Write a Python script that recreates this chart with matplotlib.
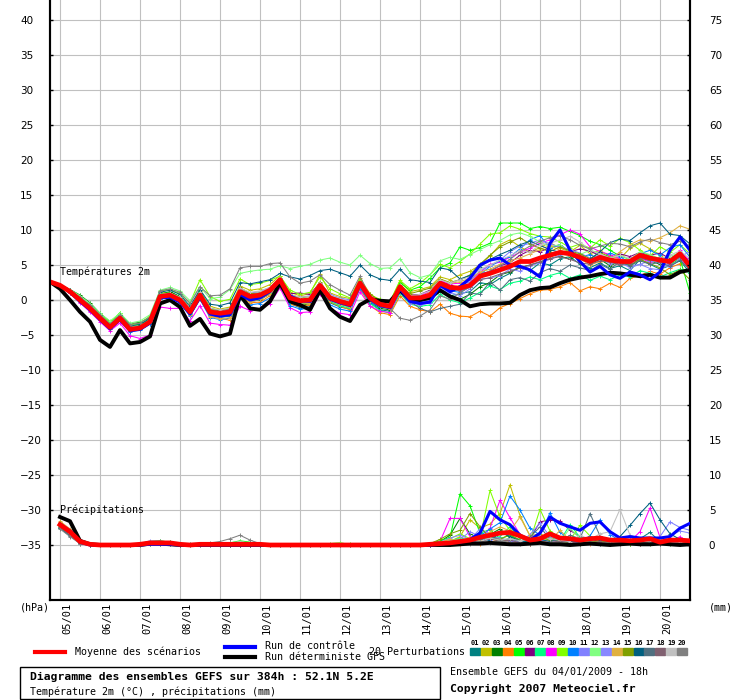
import matplotlib
matplotlib.use("Agg")
import matplotlib.pyplot as plt
from matplotlib.patches import Rectangle
from matplotlib.lines import Line2D
from matplotlib.transforms import ScaledTranslation

# diagramme des ensembles GEFS (t2m + precip), run du 04/01/2009 18h
W, H = 740, 700

heures = list(range(0, 385, 6))          # echeances 0..384h
heures_p = heures[1:]                    # cumuls 6h
jours = ['05/01', '06/01', '07/01', '08/01', '09/01', '10/01', '11/01', '12/01',
         '13/01', '14/01', '15/01', '16/01', '17/01', '18/01', '19/01', '20/01']
jours_h = [6 + 24 * k for k in range(len(jours))]

couleurs = ['#008080', '#c0c000', '#008000', '#ff8000', '#00ff00', '#800080', '#00ff80',
            '#ff00ff', '#80ff00', '#0080ff', '#8080ff', '#80ff80', '#8888ff', '#e0b040',
            '#80a000', '#006080', '#507080', '#806070', '#c0c0c0', '#808080']

# --- temperatures 2m (°C) ---
t_moy = [2.6, 2.1, 1.2, 0.0, -1.2, -2.6, -3.9, -2.6, -4.2, -4.0,
         -3.1, 0.5, 0.7, 0.0, -1.7, 0.7, -1.7, -1.9, -1.7, 1.2,
         0.5, 0.7, 1.4, 2.9, 0.3, -0.1, 0.0, 2.1, 0.3, -0.2,
         -0.6, 2.4, 0.3, -0.6, -0.9, 1.9, 0.3, 0.3, 0.7, 2.4,
         1.8, 1.7, 2.1, 3.4, 3.8, 4.3, 4.8, 5.5, 5.5, 6.0,
         6.4, 6.8, 6.6, 6.1, 5.5, 6.1, 5.7, 5.5, 5.5, 6.4,
         6.0, 5.7, 5.5, 6.6, 4.8]
t_ctl = [2.6, 2.1, 1.1, -0.2, -1.4, -2.8, -4.1, -2.8, -4.4, -4.2,
         -3.3, 0.3, 0.4, -0.3, -2.0, 0.4, -2.0, -2.3, -2.1, 0.8,
         0.0, 0.3, 1.2, 2.9, 0.6, -0.1, -0.2, 2.0, 0.1, -0.4,
         -0.8, 2.2, 0.1, -0.8, -1.1, 1.6, -0.2, -0.5, -0.3, 2.1,
         1.2, 1.9, 3.1, 5.0, 5.7, 6.0, 5.0, 4.8, 4.3, 3.3,
         8.1, 10.0, 7.1, 5.5, 4.0, 4.8, 3.6, 3.1, 4.0, 3.6,
         2.9, 4.0, 7.1, 9.0, 7.1]
t_det = [2.6, 1.6, 0.0, -1.7, -3.1, -5.7, -6.7, -4.3, -6.2, -6.0,
         -5.2, -0.5, 0.0, -1.0, -3.7, -2.7, -4.8, -5.2, -4.8, 0.7,
         -1.2, -1.4, -0.2, 2.4, -0.2, -0.7, -1.4, 1.4, -1.2, -2.4,
         -3.0, -0.7, 0.1, -0.1, -0.2, 1.4, 0.0, 0.0, 0.3, 1.4,
         0.5, 0.0, -0.9, -0.6, -0.5, -0.5, -0.4, 0.7, 1.4, 1.7,
         1.8, 2.4, 2.9, 3.2, 3.4, 3.7, 3.9, 3.8, 3.6, 3.4,
         3.6, 3.2, 3.2, 4.0, 4.3]

t01 = [2.6, 2.0, 1.0, -0.3, -1.5, -2.9, -4.1, -2.9, -4.4, -4.2,
       -3.4, 0.2, 0.4, -0.4, -2.1, 0.3, -2.2, -2.5, -2.3, 0.7,
       -0.2, 0.0, 0.9, 2.2, -0.5, -1.1, -0.8, 1.6, -0.4, -1.0,
       -1.3, 1.8, -0.4, -1.4, -1.6, 1.1, -0.6, -0.2, 0.1, 1.5,
       0.6, 0.9, 1.2, 2.5, 2.2, 3.1, 3.8, 4.9, 4.2, 5.3,
       5.0, 5.9, 6.2, 5.1, 4.6, 5.3, 4.5, 4.9, 4.2, 5.8,
       5.1, 4.4, 4.9, 5.6, 3.9]
t02 = [2.6, 2.2, 1.4, 0.3, -0.9, -2.3, -3.6, -2.4, -3.8, -3.7,
       -2.7, 1.0, 1.1, 0.4, -1.2, 1.3, -0.9, -1.3, -1.0, 2.0,
       1.4, 1.6, 2.2, 3.5, 1.1, 0.6, 0.9, 3.7, 1.0, 0.5,
       0.2, 3.1, 0.9, -0.1, -0.3, 2.6, 1.2, 1.5, 1.9, 3.3,
       2.9, 3.6, 4.1, 5.0, 6.3, 7.9, 8.6, 7.6, 6.8, 7.5,
       8.2, 7.4, 6.9, 7.8, 6.6, 7.1, 6.2, 5.9, 7.4, 8.1,
       7.3, 6.5, 5.3, 6.2, 5.1]
t03 = [2.6, 2.2, 1.5, 0.7, -0.4, -1.9, -3.1, -2.3, -3.4, -3.2,
       -2.5, 0.8, 1.2, 0.5, -1.2, 0.9, -1.2, -1.5, -1.4, 1.5,
       0.6, 0.2, 0.8, 2.5, -0.3, -0.8, -0.5, 1.8, 0.0, -0.6,
       -1.0, 2.0, -0.2, -1.2, -1.4, 1.4, 0.5, 0.6, 0.2, 1.4,
       0.7, 0.1, 0.8, 1.9, 2.5, 3.6, 4.0, 4.6, 5.0, 5.4,
       5.9, 6.3, 5.8, 6.5, 5.2, 5.8, 4.9, 5.5, 4.8, 6.0,
       5.6, 5.1, 5.9, 6.8, 5.4]
t04 = [2.6, 2.1, 1.1, -0.1, -1.3, -2.8, -4.0, -2.8, -4.3, -4.1,
       -3.3, 0.3, 0.3, -0.2, -2.0, 0.4, -2.3, -2.6, -2.9, 0.5,
       -0.4, -0.3, 0.6, 2.4, -0.6, -0.9, -0.7, 1.7, -0.3, -0.9,
       -1.4, 1.6, -0.8, -1.8, -2.1, 0.6, -0.9, -1.4, -1.7, -0.6,
       -1.9, -2.3, -2.4, -1.6, -2.3, -1.1, -0.5, 0.2, 0.9, 1.4,
       1.5, 1.9, 2.5, 1.3, 1.9, 1.6, 2.4, 1.8, 3.1, 3.5,
       4.1, 3.7, 4.6, 5.2, 5.6]
t05 = [2.6, 2.1, 1.3, 0.2, -0.9, -2.2, -3.3, -1.8, -3.6, -3.5,
       -2.7, 0.9, 1.0, 0.3, -1.3, 1.4, -1.4, -1.6, -1.7, 1.4,
       0.8, 0.5, 1.3, 2.6, 0.1, -0.5, -0.3, 2.0, 0.2, -0.4,
       -0.8, 2.2, -0.1, -0.7, -0.8, 2.5, 1.4, 1.9, 3.1, 4.6,
       5.3, 7.6, 7.1, 7.5, 8.1, 11.0, 11.0, 11.0, 10.2, 10.5,
       10.2, 10.4, 9.8, 9.2, 8.4, 7.9, 7.1, 6.3, 5.8, 6.6,
       5.5, 6.2, 5.0, 5.9, 1.0]
t06 = [2.6, 2.1, 1.2, 0.1, -1.1, -2.5, -3.8, -2.6, -4.0, -3.9,
       -3.0, 0.6, 0.8, 0.2, -1.5, 0.8, -1.4, -1.5, -1.3, 1.3,
       0.5, 0.7, 1.2, 3.1, 0.9, 1.0, 0.8, 2.5, 0.6, 0.1,
       -0.2, 2.6, 0.6, -0.3, -0.5, 2.0, 0.7, 0.8, 1.4, 2.7,
       2.2, 1.6, 2.0, 3.7, 4.1, 4.9, 5.3, 6.4, 7.1, 6.9,
       7.5, 7.9, 6.9, 7.3, 7.0, 6.3, 6.0, 6.6, 6.2, 6.8,
       6.4, 6.7, 5.9, 6.3, 5.8]
t07 = [2.6, 2.0, 1.1, -0.2, -1.4, -2.8, -4.0, -2.7, -4.3, -4.1,
       -3.3, 0.3, 0.5, -0.3, -2.0, 0.3, -2.1, -2.3, -2.2, 0.9,
       0.1, 0.3, 1.0, 2.6, -0.4, -0.6, -0.4, 1.7, -0.2, -0.8,
       -1.2, 1.9, -0.5, -1.5, -1.9, 1.0, -0.6, -0.9, -0.7, 0.8,
       0.0, -0.4, 0.3, 1.1, 2.0, 1.5, 2.4, 2.7, 3.3, 2.9,
       3.5, 3.9, 3.1, 3.6, 2.8, 3.4, 2.9, 3.6, 3.3, 4.2,
       3.8, 3.3, 3.9, 4.4, 3.9]
t08 = [2.6, 2.0, 1.0, -0.4, -1.7, -3.1, -4.4, -3.3, -5.1, -5.5,
       -5.0, -1.0, -1.2, -1.2, -3.0, -0.8, -3.3, -3.5, -3.6, -0.9,
       -1.5, -1.2, -0.5, 1.7, -1.1, -1.8, -1.7, 0.9, -1.2, -1.9,
       -2.1, 1.2, -0.9, -1.6, -1.8, 1.3, 0.3, 0.6, 1.2, 2.8,
       2.3, 2.4, 2.8, 3.9, 5.1, 5.4, 6.1, 6.8, 7.4, 8.1,
       8.6, 9.3, 10.0, 9.4, 7.6, 6.9, 6.5, 5.9, 5.1, 6.0,
       5.4, 6.1, 5.0, 7.1, 5.5]
t09 = [2.6, 2.2, 1.4, 0.4, -0.7, -2.0, -3.2, -1.9, -3.5, -3.3,
       -2.3, 1.3, 1.5, 0.9, -0.4, 2.9, 0.5, -0.2, 0.1, 3.0,
       2.2, 2.4, 2.8, 3.4, 1.4, 0.8, 1.1, 3.3, 1.6, 0.9,
       0.3, 2.9, 0.7, 0.1, -0.2, 2.8, 1.6, 2.4, 3.6, 5.1,
       4.6, 5.5, 6.6, 8.0, 9.4, 9.6, 10.6, 10.1, 9.5, 9.1,
       9.0, 8.3, 7.5, 8.0, 7.4, 8.6, 7.7, 8.8, 8.2, 7.1,
       6.3, 7.6, 6.8, 7.9, 6.6]
t10 = [2.6, 2.1, 1.2, 0.0, -1.3, -2.7, -4.0, -2.9, -4.5, -4.3,
       -3.4, 0.2, 0.4, -0.4, -2.3, 0.1, -2.5, -2.8, -2.6, 0.3,
       -0.7, -0.5, 0.3, 2.3, -0.8, -1.3, -1.2, 1.4, -0.7, -1.3,
       -1.6, 1.7, -0.3, -1.0, -1.2, 1.6, 0.1, 0.2, 0.8, 2.0,
       1.3, 1.1, 1.9, 3.6, 4.8, 5.6, 6.2, 7.3, 8.6, 9.2,
       7.4, 7.9, 6.8, 6.1, 6.5, 5.8, 6.7, 6.2, 5.3, 6.6,
       7.1, 6.4, 7.5, 7.9, 6.1]
t11 = [2.6, 2.1, 1.3, 0.0, -1.1, -2.5, -3.7, -2.6, -4.1, -3.8,
       -3.0, 0.7, 0.9, 0.3, -1.4, 0.9, -1.4, -1.6, -1.4, 1.6,
       1.0, 1.2, 1.8, 3.1, 0.7, 0.4, 0.6, 2.4, 0.8, 0.3,
       0.0, 2.5, 0.6, -0.2, -0.4, 1.4, -0.3, -0.7, -0.4, 1.5,
       1.0, 2.1, 2.6, 4.2, 4.9, 5.7, 6.9, 7.7, 8.1, 8.6,
       8.0, 7.6, 7.2, 6.7, 6.0, 6.4, 5.9, 5.2, 4.8, 5.1,
       4.5, 4.3, 5.3, 6.2, 6.9]
t12 = [2.6, 2.2, 1.5, 0.6, -0.5, -1.9, -3.0, -1.9, -3.3, -3.0,
       -2.1, 1.4, 1.8, 1.3, -0.1, 1.9, 0.2, 0.4, 1.5, 3.8,
       4.1, 4.3, 4.4, 4.9, 4.5, 4.8, 5.1, 5.7, 6.0, 5.4,
       5.0, 6.4, 5.2, 4.5, 4.6, 5.9, 3.9, 3.2, 3.6, 5.6,
       6.1, 5.8, 6.5, 7.2, 7.9, 8.5, 9.3, 9.6, 9.1, 8.3,
       7.6, 7.9, 6.8, 6.5, 7.1, 6.7, 6.0, 6.4, 5.8, 6.9,
       6.5, 5.9, 6.2, 6.8, 4.6]
t13 = [2.6, 2.1, 1.2, -0.1, -1.3, -2.6, -3.9, -2.5, -4.1, -4.0,
       -3.0, 0.6, 0.6, 0.1, -1.8, 0.6, -1.9, -2.0, -1.9, 1.1,
       0.2, 0.5, 1.1, 2.7, 0.0, -0.4, -0.3, 1.9, 0.1, -0.5,
       -0.8, 2.0, 0.1, -0.8, -1.1, 1.2, -0.5, -0.4, 0.0, 1.8,
       1.1, 0.6, 1.6, 3.0, 3.1, 3.5, 4.4, 4.1, 4.9, 5.3,
       5.8, 6.4, 6.9, 6.3, 5.6, 5.9, 5.2, 5.4, 4.6, 5.1,
       5.6, 5.3, 4.7, 5.9, 4.4]
t14 = [2.6, 2.1, 1.1, 0.0, -1.2, -2.7, -3.9, -2.7, -4.2, -4.1,
       -3.2, 0.4, 0.5, -0.3, -2.2, 0.2, -2.4, -2.7, -2.5, 0.6,
       -0.3, 0.1, 0.8, 2.6, -0.2, -0.6, -0.5, 1.8, -0.1, -0.6,
       -1.0, 2.1, -0.1, -0.9, -1.3, 1.5, 0.0, 0.4, 1.1, 3.0,
       2.4, 2.6, 3.1, 4.0, 4.4, 5.1, 5.6, 6.0, 6.6, 7.2,
       7.8, 7.1, 6.3, 5.9, 5.0, 5.5, 5.7, 6.9, 7.9, 8.6,
       8.4, 8.9, 9.6, 10.6, 10.1]
t15 = [2.6, 2.1, 1.2, 0.1, -1.0, -2.4, -3.6, -2.4, -3.9, -3.8,
       -2.9, 0.7, 0.9, 0.4, -1.3, 1.0, -1.3, -1.5, -1.2, 1.8,
       0.9, 1.0, 1.6, 3.2, 0.8, 0.3, 0.5, 2.6, 0.6, 0.1,
       -0.3, 2.7, 0.8, -0.1, -0.6, 2.2, 0.9, 1.3, 1.7, 3.0,
       2.5, 2.9, 3.6, 5.1, 6.4, 7.6, 8.3, 8.9, 8.0, 7.4,
       6.9, 7.6, 7.0, 6.6, 5.9, 6.8, 6.1, 5.4, 5.0, 5.8,
       5.2, 4.6, 3.6, 4.3, 2.9]
t16 = [2.6, 2.2, 1.4, 0.3, -0.8, -2.2, -3.5, -2.2, -3.7, -3.5,
       -2.6, 1.1, 1.4, 0.8, -0.9, 1.5, -0.6, -0.8, -0.4, 2.5,
       2.3, 2.6, 2.9, 3.8, 3.3, 3.0, 3.5, 4.2, 4.4, 3.9,
       3.4, 5.0, 3.6, 3.0, 2.8, 4.4, 2.9, 2.7, 2.5, 4.6,
       4.3, 3.0, 3.5, 4.7, 5.8, 6.5, 7.1, 7.9, 8.4, 7.8,
       7.2, 6.8, 6.5, 6.1, 5.8, 6.9, 8.2, 8.7, 8.5, 9.6,
       10.6, 11.0, 9.4, 9.2, 8.0]
t17 = [2.6, 2.1, 1.2, 0.0, -1.3, -2.8, -4.1, -2.8, -4.4, -4.1,
       -3.2, 0.4, 0.6, -0.1, -1.9, 0.5, -1.8, -2.0, -1.8, 1.0,
       0.3, 0.6, 1.5, 3.0, 0.4, -0.1, 0.1, 2.2, 0.4, -0.3,
       -0.7, 2.3, 0.2, -0.7, -1.0, 1.8, -0.2, -1.2, -1.7, -1.2,
       -0.9, -0.6, 1.0, 0.8, 2.6, 1.4, 2.9, 3.2, 2.7, 3.9,
       4.5, 4.1, 5.0, 4.6, 4.2, 5.1, 4.4, 5.5, 4.9, 5.6,
       5.1, 5.4, 4.8, 5.7, 4.3]
t18 = [2.6, 2.1, 1.2, 0.1, -1.2, -2.6, -3.9, -2.7, -4.2, -4.0,
       -3.1, 0.5, 0.7, 0.1, -1.6, 0.8, -1.6, -1.8, -1.6, 1.3,
       0.6, 0.8, 1.4, 2.8, 0.2, -0.3, -0.1, 2.0, 0.2, -0.4,
       -0.7, 2.3, 0.2, -0.7, -1.0, 1.7, 0.1, 0.0, 0.5, 2.1,
       1.6, 1.3, 1.8, 2.9, 3.2, 3.7, 4.1, 4.6, 5.0, 5.5,
       5.9, 6.2, 5.8, 5.3, 5.1, 5.6, 5.4, 5.0, 5.3, 6.0,
       5.7, 5.5, 5.2, 6.1, 5.0]
t19 = [2.6, 2.1, 1.3, 0.2, -1.0, -2.4, -3.7, -2.4, -3.9, -3.8,
       -2.8, 0.8, 1.0, 0.4, -1.2, 1.1, -1.2, -1.4, -1.2, 1.7,
       1.1, 1.3, 1.8, 3.2, 0.8, 0.4, 0.5, 2.5, 0.7, 0.2,
       -0.2, 2.6, 0.6, -0.3, -0.6, 2.1, 0.6, 0.8, 1.3, 2.9,
       2.4, 2.9, 3.3, 4.4, 5.0, 5.7, 6.3, 7.1, 6.8, 7.9,
       8.1, 8.6, 9.1, 8.3, 7.1, 6.6, 6.0, 6.4, 5.9, 6.6,
       6.2, 5.8, 6.4, 7.0, 5.9]
t20 = [2.6, 2.2, 1.4, 0.4, -0.7, -2.1, -3.4, -2.1, -3.5, -3.3,
       -2.4, 1.3, 1.6, 1.1, -0.5, 1.9, 0.6, 0.7, 1.6, 4.6,
       4.8, 4.8, 5.2, 5.3, 3.3, 2.4, 2.7, 3.6, 2.2, 1.4,
       0.7, 3.4, 0.5, -0.5, -1.2, -2.6, -2.9, -2.3, -1.4, 0.6,
       0.1, 1.0, 1.9, 3.3, 4.2, 4.9, 5.8, 6.9, 7.7, 8.4,
       8.9, 9.2, 8.6, 7.8, 7.3, 7.7, 8.1, 8.0, 7.6, 8.3,
       8.7, 8.2, 7.9, 8.4, 7.6]

# --- precipitations 6h (mm) ---
p_moy = [2.9, 1.9, 0.5, 0.1, 0, 0, 0, 0,  0.1, 0.3, 0.3, 0.3, 0.1, 0, 0.1, 0.1,
         0.1, 0.1, 0.1, 0.1, 0.1, 0, 0, 0,  0, 0, 0, 0, 0, 0, 0, 0,
         0, 0, 0, 0, 0, 0.1, 0.2, 0.3,  0.5, 0.7, 1.1, 1.4, 1.7, 1.8, 1.3, 0.7,
         0.9, 1.6, 1.0, 0.9, 0.7, 0.9, 1.0, 0.7,  0.7, 0.6, 0.7, 0.9, 0.4, 0.7, 0.7, 0.6]
p_ctl = [3.0, 2.0, 0.4, 0, 0, 0, 0, 0,  0, 0.1, 0.1, 0.1, 0, 0, 0, 0,
         0, 0, 0, 0, 0, 0, 0, 0,  0, 0, 0, 0, 0, 0, 0, 0,
         0, 0, 0, 0, 0, 0, 0.1, 0.3,  0.4, 0.8, 1.7, 4.8, 3.6, 2.9, 1.4, 0.7,
         1.7, 4.0, 3.1, 2.6, 2.1, 3.1, 3.3, 1.9,  1.0, 1.2, 1.0, 1.0, 1.0, 1.2, 2.4, 3.1]
p_det = [4.0, 3.4, 0.6, 0.1, 0, 0, 0, 0,  0, 0.2, 0.2, 0.1, 0, 0, 0, 0,
         0, 0, 0, 0, 0, 0, 0, 0,  0, 0, 0, 0, 0, 0, 0, 0,
         0, 0, 0, 0, 0, 0, 0, 0,  0.1, 0.2, 0.2, 0.3, 0.2, 0.1, 0.1, 0.2,
         0.3, 0.1, 0.1, 0, 0.1, 0.2, 0.1, 0,  0.1, 0.2, 0.1, 0.1, 0.2, 0.1, 0, 0.1]

p01 = [2.7, 1.6, 0.4, 0, 0, 0, 0, 0,  0, 0.2, 0.3, 0.2, 0, 0, 0, 0,
       0, 0.1, 0.2, 0.1, 0, 0, 0, 0,  0, 0, 0, 0, 0, 0, 0, 0,
       0, 0, 0, 0, 0, 0, 0.2, 0.4,  0.6, 0.3, 0.8, 1.2, 2.0, 1.4, 0.6, 0.2,
       0.5, 0.9, 0.4, 0.6, 0.3, 0.8, 0.5, 0.2,  0.4, 0.3, 0.9, 1.8, 0.5, 0.3, 0.6, 0.2]
p02 = [3.1, 2.1, 0.7, 0.1, 0, 0, 0, 0,  0.1, 0.4, 0.3, 0.2, 0.1, 0, 0, 0,
       0, 0, 0.1, 0.1, 0, 0, 0, 0,  0, 0, 0, 0, 0, 0, 0, 0,
       0, 0, 0, 0, 0, 0.1, 0.2, 0.5,  1.2, 3.6, 2.4, 3.0, 4.5, 8.6, 4.2, 1.3,
       1.6, 0.8, 0.5, 0.9, 0.4, 0.3, 0.7, 0.4,  0.2, 0.5, 0.3, 0.4, 0.2, 0.6, 0.3, 0.5]
p03 = [2.6, 1.5, 0.3, 0, 0, 0, 0, 0,  0.1, 0.2, 0.2, 0.1, 0, 0, 0.1, 0.1,
       0.1, 0, 0, 0, 0, 0, 0, 0,  0, 0, 0, 0, 0, 0, 0, 0,
       0, 0, 0, 0, 0, 0.2, 0.5, 1.4,  3.8, 1.6, 0.9, 1.5, 2.3, 1.0, 0.4, 0.3,
       0.6, 1.1, 0.5, 0.3, 0.2, 0.4, 0.2, 0.1,  0.3, 0.2, 0.4, 0.6, 0.3, 0.2, 0.1, 0.2]
p04 = [3.3, 2.2, 0.6, 0.1, 0, 0, 0, 0,  0, 0.1, 0.2, 0.1, 0, 0, 0, 0,
       0, 0, 0, 0, 0, 0, 0, 0,  0, 0, 0, 0, 0, 0, 0, 0,
       0, 0, 0, 0, 0, 0, 0.1, 0.1,  0.2, 0.3, 0.1, 0.4, 0.8, 0.5, 0.3, 0.1,
       0.4, 0.6, 0.3, 0.2, 0.5, 0.1, 0.3, 0.6,  0.2, 0.4, 0.8, 0.5, 0.3, 0.9, 0.6, 0.3]
p05 = [2.9, 1.8, 0.5, 0.1, 0, 0, 0, 0,  0.2, 0.5, 0.6, 0.4, 0.1, 0, 0.1, 0.2,
       0.2, 0.3, 0.6, 0.4, 0.1, 0, 0, 0,  0, 0, 0, 0, 0, 0, 0, 0,
       0, 0, 0, 0, 0, 0.2, 0.6, 1.1,  7.3, 5.6, 1.7, 2.2, 0.9, 1.4, 0.6, 0.3,
       0.8, 1.9, 0.7, 0.5, 0.3, 0.6, 0.4, 0.2,  0.5, 0.3, 0.2, 0.4, 0.3, 0.5, 0.2, 0.4]
p06 = [2.8, 1.7, 0.4, 0, 0, 0, 0, 0,  0, 0.2, 0.3, 0.1, 0, 0, 0, 0,
       0, 0, 0, 0, 0, 0, 0, 0,  0, 0, 0, 0, 0, 0, 0, 0,
       0, 0, 0, 0, 0, 0, 0.1, 0.3,  0.5, 0.6, 1.0, 1.3, 0.9, 0.6, 0.4, 0.9,
       3.3, 3.6, 3.4, 2.1, 1.2, 0.9, 0.6, 0.4,  0.3, 0.5, 0.2, 0.6, 0.1, 0.4, 0.3, 0.2]
p07 = [3.0, 2.0, 0.6, 0.1, 0, 0, 0, 0,  0, 0.2, 0.2, 0.1, 0, 0, 0, 0,
       0.1, 0.1, 0.2, 0.1, 0, 0, 0, 0,  0, 0, 0, 0, 0, 0, 0, 0,
       0, 0, 0, 0, 0, 0.1, 0.3, 0.6,  1.0, 0.7, 1.9, 0.8, 1.2, 2.6, 1.0, 0.5,
       0.9, 1.3, 0.6, 2.9, 1.1, 0.5, 0.4, 0.3,  0.6, 0.2, 0.3, 0.5, 0.2, 0.3, 0.4, 0.1]
p08 = [3.2, 2.2, 0.7, 0.1, 0, 0, 0, 0,  0.1, 0.3, 0.4, 0.3, 0.1, 0, 0, 0,
       0, 0, 0, 0, 0, 0, 0, 0,  0, 0, 0, 0, 0, 0, 0, 0,
       0, 0, 0, 0, 0, 0.1, 0.5, 3.8,  3.8, 1.2, 0.8, 2.4, 6.4, 3.9, 1.5, 0.6,
       0.9, 1.4, 0.8, 0.5, 0.3, 0.6, 0.4, 0.3,  0.7, 0.5, 1.9, 5.3, 1.1, 0.4, 1.2, 0.3]
p09 = [2.5, 1.4, 0.3, 0, 0, 0, 0, 0,  0.1, 0.2, 0.3, 0.2, 0, 0, 0.1, 0.1,
       0, 0, 0.1, 0, 0, 0, 0, 0,  0, 0, 0, 0.2, 0.3, 0.1, 0, 0,
       0, 0, 0, 0, 0, 0.1, 0.3, 0.9,  1.6, 0.9, 1.0, 7.8, 4.0, 2.1, 1.2, 0.6,
       5.1, 2.0, 1.0, 0.7, 2.8, 1.3, 0.5, 0.3,  0.4, 0.3, 0.6, 0.2, 0.5, 0.3, 0.4, 0.2]
p10 = [2.8, 1.7, 0.5, 0.1, 0, 0, 0, 0,  0, 0.1, 0.1, 0.1, 0, 0, 0, 0,
       0, 0, 0, 0, 0, 0, 0, 0,  0, 0, 0, 0, 0, 0, 0, 0,
       0, 0, 0, 0, 0, 0, 0.1, 0.2,  0.4, 0.9, 1.3, 2.3, 3.2, 7.0, 5.0, 2.4,
       1.4, 4.6, 1.8, 0.8, 0.5, 1.3, 3.6, 1.5,  0.6, 0.3, 0.4, 0.8, 0.5, 0.3, 0.6, 0.4]
p11 = [3.0, 1.9, 0.6, 0.1, 0, 0, 0, 0,  0.2, 0.6, 0.5, 0.3, 0.1, 0, 0, 0,
       0, 0, 0, 0, 0, 0, 0, 0,  0, 0, 0, 0, 0, 0, 0, 0,
       0, 0, 0, 0, 0, 0.1, 0.2, 0.4,  0.8, 1.9, 1.2, 0.7, 1.0, 0.6, 0.4, 1.5,
       3.1, 1.2, 0.8, 0.5, 0.7, 0.4, 0.3, 0.6,  0.3, 0.8, 0.5, 0.3, 1.2, 3.3, 2.5, 2.1]
p12 = [2.7, 1.6, 0.4, 0, 0, 0, 0, 0,  0.1, 0.3, 0.4, 0.2, 0, 0.1, 0.2, 0.1,
       0.1, 0.1, 0.3, 0.2, 0.1, 0, 0, 0,  0, 0, 0, 0.2, 0.3, 0.1, 0, 0,
       0, 0, 0, 0, 0, 0.1, 0.3, 0.6,  0.9, 0.5, 0.8, 1.1, 0.6, 1.0, 0.7, 0.4,
       0.6, 1.0, 0.5, 2.4, 0.9, 0.6, 0.4, 0.3,  0.5, 0.2, 0.6, 0.4, 0.3, 0.7, 0.5, 0.3]
p13 = [2.9, 1.8, 0.5, 0.1, 0, 0, 0, 0,  0.1, 0.4, 0.5, 0.3, 0.1, 0, 0, 0,
       0, 0, 0.1, 0, 0, 0, 0, 0,  0, 0, 0, 0, 0, 0, 0, 0,
       0, 0, 0, 0, 0, 0.1, 0.4, 1.0,  1.4, 0.8, 2.3, 1.6, 0.9, 0.7, 0.5, 0.3,
       0.7, 0.5, 0.4, 0.8, 0.6, 0.3, 0.2, 0.4,  0.2, 0.6, 0.4, 0.8, 0.2, 1.4, 2.0, 1.7]
p14 = [3.4, 2.3, 0.7, 0.2, 0, 0, 0, 0,  0, 0.2, 0.2, 0.1, 0, 0, 0, 0,
       0, 0, 0, 0, 0, 0, 0, 0,  0, 0, 0, 0, 0, 0, 0, 0,
       0, 0, 0, 0, 0, 0.2, 0.4, 0.8,  0.6, 1.1, 0.7, 1.9, 2.6, 2.0, 4.0, 1.3,
       0.9, 0.6, 2.1, 0.7, 0.4, 0.5, 0.3, 0.6,  0.3, 0.4, 0.2, 0.5, 0.8, 0.3, 0.9, 0.2]
p15 = [3.1, 2.0, 0.6, 0.1, 0, 0, 0, 0,  0.1, 0.3, 0.3, 0.2, 0, 0, 0.1, 0.1,
       0.1, 0, 0, 0, 0, 0, 0, 0,  0, 0, 0, 0, 0, 0, 0, 0,
       0, 0, 0, 0, 0, 0.2, 0.8, 1.6,  2.1, 4.5, 2.6, 1.0, 0.8, 1.5, 0.7, 0.4,
       1.2, 0.7, 0.6, 0.9, 0.5, 0.4, 0.6, 0.3,  0.4, 0.2, 0.5, 0.3, 0.6, 0.4, 0.2, 0.5]
p16 = [2.4, 1.3, 0.3, 0, 0, 0, 0, 0,  0.1, 0.3, 0.3, 0.2, 0.1, 0, 0, 0,
       0, 0, 0, 0, 0, 0, 0, 0,  0, 0, 0, 0, 0, 0, 0, 0,
       0, 0, 0, 0, 0, 0, 0.1, 0.3,  0.5, 0.4, 1.0, 0.6, 1.8, 1.2, 0.6, 0.4,
       0.8, 0.5, 0.9, 0.6, 0.4, 1.0, 0.7, 0.5,  1.2, 2.8, 4.5, 6.0, 3.6, 1.6, 0.8, 0.5]
p17 = [2.5, 1.4, 0.2, 0, 0, 0, 0, 0,  0.1, 0.4, 0.4, 0.2, 0, 0, 0, 0,
       0, 0, 0, 0, 0, 0, 0, 0,  0, 0, 0, 0, 0, 0, 0, 0,
       0, 0, 0, 0, 0, 0.1, 0.3, 0.5,  0.7, 0.5, 0.8, 1.3, 0.6, 0.9, 0.5, 1.1,
       2.6, 0.8, 0.5, 1.4, 0.9, 4.5, 1.3, 0.6,  0.3, 0.5, 0.4, 0.7, 0.3, 0.5, 0.6, 0.4]
p18 = [2.6, 1.5, 0.3, 0, 0, 0, 0, 0,  0.1, 0.3, 0.4, 0.2, 0, 0, 0, 0,
       0, 0, 0, 0, 0, 0, 0, 0,  0, 0, 0, 0, 0, 0, 0, 0,
       0, 0, 0, 0, 0, 0, 0.1, 0.2,  0.3, 0.6, 0.4, 0.9, 0.5, 0.7, 0.3, 0.2,
       0.5, 0.3, 0.6, 0.4, 0.2, 0.3, 0.5, 0.2,  0.4, 0.3, 0.2, 0.5, 0.2, 0.4, 0.3, 0.2]
p19 = [2.8, 1.7, 0.5, 0.1, 0, 0, 0, 0,  0.1, 0.4, 0.4, 0.2, 0.1, 0, 0, 0,
       0.1, 0.3, 0.5, 0.3, 0.1, 0, 0, 0,  0, 0, 0, 0, 0, 0, 0, 0,
       0, 0, 0, 0, 0, 0.1, 0.2, 0.4,  0.6, 0.8, 0.5, 1.0, 0.7, 0.9, 0.6, 0.8,
       1.3, 0.9, 0.7, 0.5, 1.4, 0.8, 1.6, 1.9,  5.1, 1.4, 0.6, 0.4, 0.7, 0.3, 0.5, 0.4]
p20 = [2.3, 1.2, 0.2, 0, 0, 0, 0, 0,  0.2, 0.5, 0.6, 0.4, 0.2, 0.1, 0.2, 0.3,
       0.5, 0.9, 1.4, 0.7, 0.2, 0, 0, 0,  0, 0, 0, 0, 0, 0, 0, 0,
       0, 0, 0, 0, 0, 0.1, 0.1, 0.2,  0.3, 0.2, 0.5, 0.3, 0.6, 0.4, 0.2, 0.3,
       0.5, 0.3, 0.4, 0.2, 0.3, 0.5, 0.2, 0.3,  0.2, 0.4, 0.3, 0.2, 0.4, 0.3, 0.2, 0.3]

membres_t = [t01, t02, t03, t04, t05, t06, t07, t08, t09, t10,
             t11, t12, t13, t14, t15, t16, t17, t18, t19, t20]
membres_p = [p01, p02, p03, p04, p05, p06, p07, p08, p09, p10,
             p11, p12, p13, p14, p15, p16, p17, p18, p19, p20]

MONO = 'DejaVu Sans Mono'


def fpos(x, y):
    # pixels image -> coords figure
    return x / W, 1 - y / H


fig = plt.figure(figsize=(W / 100, H / 100), dpi=100)
ax = fig.add_axes([50 / W, 100 / H, 640 / W, 600 / H])
ax2 = ax.twinx()

lim = 300 / 7
ax.set_xlim(0, 384)
ax.set_ylim(-lim, lim)
ax2.set_ylim(-lim + 35, lim + 35)

# grille
ax.set_yticks(range(-35, 41, 5))
ax.set_xticks(jours_h)
ax.set_xticklabels(jours, rotation=90, family=MONO, fontsize=7.5)
ax.grid(True, color='#c0c0c0', lw=0.8, zorder=0)
ax.axhline(0, color='#888888', lw=0.9, zorder=0.5)
ax.set_axisbelow(True)

ax.tick_params(axis='x', length=0, pad=2)
ax.tick_params(axis='y', direction='in', length=2, width=1, labelsize=7.5, pad=21.6)
for lab in ax.get_yticklabels():
    lab.set_horizontalalignment('left')
for lab in ax.get_xticklabels():
    lab.set_transform(lab.get_transform() + ScaledTranslation(7 / 100, 0, fig.dpi_scale_trans))

ax2.set_yticks(range(0, 76, 5))
ax2.tick_params(axis='y', direction='in', length=2, width=1, labelsize=7.5, pad=13.5)

for a in (ax, ax2):
    a.spines['top'].set_visible(False)
    for s in ('left', 'right', 'bottom'):
        a.spines[s].set_linewidth(1.5)

# membres
for t, p, c in zip(membres_t, membres_p, couleurs):
    ax.plot(heures, t, color=c, lw=0.75, marker='+', ms=3, mew=0.7, zorder=2)
    ax2.plot(heures_p, p, color=c, lw=0.75, marker='+', ms=3, mew=0.7, zorder=2)

ax.plot(heures, t_det, color='black', lw=2.8, zorder=3)
ax.plot(heures, t_ctl, color='blue', lw=2.2, zorder=4)
ax.plot(heures, t_moy, color='red', lw=3.4, zorder=5)
ax2.plot(heures_p, p_det, color='black', lw=2.8, zorder=3)
ax2.plot(heures_p, p_ctl, color='blue', lw=2.2, zorder=4)
ax2.plot(heures_p, p_moy, color='red', lw=3.4, zorder=5)

ax.text(6, 4.0, 'Températures 2m', family=MONO, fontsize=7.2, va='center', zorder=6)
ax.text(6, -29.9, 'Précipitations', family=MONO, fontsize=7.2, va='center', zorder=6)

# bas de figure
fig.text(*fpos(20, 607), '(hPa)', family=MONO, fontsize=7.2, va='center')
fig.text(*fpos(709, 607), '(mm)', family=MONO, fontsize=7.2, va='center')

fig.add_artist(Line2D([35 / W, 65 / W], [1 - 652 / H] * 2, color='red', lw=3))
fig.text(*fpos(75, 652), 'Moyenne des scénarios', family=MONO, fontsize=7.2, va='center')
fig.add_artist(Line2D([225 / W, 255 / W], [1 - 647 / H] * 2, color='blue', lw=3))
fig.add_artist(Line2D([225 / W, 255 / W], [1 - 657 / H] * 2, color='black', lw=3))
fig.text(*fpos(265, 646), 'Run de contrôle', family=MONO, fontsize=7.2, va='center')
fig.text(*fpos(265, 657), 'Run déterministe GFS', family=MONO, fontsize=7.2, va='center')
fig.text(*fpos(369, 652), '20 Perturbations', family=MONO, fontsize=7.2, va='center')

for k, c in enumerate(couleurs):
    x0 = 470 + k * 10.9
    fig.add_artist(Rectangle(fpos(x0, 655), 10 / W, 7 / H, color=c,
                             transform=fig.transFigure))
    fig.text(*fpos(x0 + 5, 643), '%02d' % (k + 1), family=MONO, fontsize=5,
             fontweight='bold', ha='center', va='center')

fig.add_artist(Rectangle(fpos(20, 699), 420 / W, 32 / H, fill=False, ec='black',
                         lw=1, transform=fig.transFigure))
fig.text(*fpos(30, 677), 'Diagramme des ensembles GEFS sur 384h : 52.1N 5.2E',
         family=MONO, fontsize=8.2, fontweight='bold', va='center')
fig.text(*fpos(30, 692), 'Température 2m (°C) , précipitations (mm)',
         family=MONO, fontsize=7.2, va='center')
fig.text(*fpos(450, 672), 'Ensemble GEFS du 04/01/2009 - 18h',
         family=MONO, fontsize=7.2, va='center')
fig.text(*fpos(450, 689), 'Copyright 2007 Meteociel.fr',
         family=MONO, fontsize=8.2, fontweight='bold', va='center')

fig.savefig('out.png', dpi=100)
